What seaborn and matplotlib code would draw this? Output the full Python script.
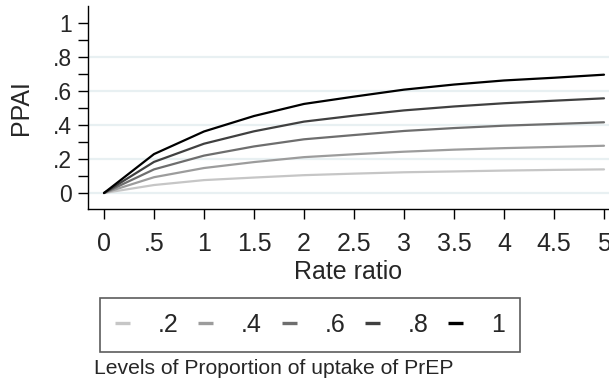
import matplotlib
matplotlib.use("Agg")
import matplotlib.pyplot as plt
import seaborn as sns
import pandas as pd
from matplotlib.lines import Line2D

rate_ratio = [0, 0.5, 1, 1.5, 2, 2.5, 3, 3.5, 4, 4.5, 5]
ppai_02 = [0, 0.047, 0.076, 0.091, 0.105, 0.114, 0.122, 0.127, 0.132, 0.136, 0.139]
ppai_04 = [0, 0.093, 0.147, 0.182, 0.211, 0.228, 0.243, 0.255, 0.264, 0.271, 0.278]
ppai_06 = [0, 0.139, 0.220, 0.274, 0.316, 0.341, 0.365, 0.382, 0.396, 0.406, 0.416]
ppai_08 = [0, 0.183, 0.290, 0.363, 0.420, 0.455, 0.486, 0.509, 0.528, 0.543, 0.557]
ppai_10 = [0, 0.229, 0.362, 0.453, 0.524, 0.567, 0.608, 0.638, 0.662, 0.678, 0.696]
levels = [".2", ".4", ".6", ".8", "1"]
colors = ["#c6c6c6", "#9c9c9c", "#6e6e6e", "#404040", "#000000"]

x_ticks = [0, 0.5, 1, 1.5, 2, 2.5, 3, 3.5, 4, 4.5, 5]
x_tick_labels = ["0", ".5", "1", "1.5", "2", "2.5", "3", "3.5", "4", "4.5", "5"]
y_ticks = [0, 0.1, 0.2, 0.3, 0.4, 0.5, 0.6, 0.7, 0.8, 0.9, 1.0]
y_tick_labels = ["0", "", ".2", "", ".4", "", ".6", "", ".8", "", "1"]
grid_levels = [0, 0.2, 0.4, 0.6, 0.8]

series = [ppai_02, ppai_04, ppai_06, ppai_08, ppai_10]
rows = []
for lev, vals in zip(levels, series):
    for x, y in zip(rate_ratio, vals):
        rows.append({"Rate ratio": x, "PPAI": y, "level": lev})
df = pd.DataFrame(rows)

sns.set_style("white")
plt.rcParams["font.family"] = ["Liberation Sans", "DejaVu Sans"]

W, H = 609, 379
fig = plt.figure(figsize=(W / 100, H / 100), dpi=100)
ax = fig.add_axes([88 / W, 1 - 209 / H, (609 - 88) / W, (209 - 6) / H])

for g in grid_levels:
    ax.axhline(g, color="#e8f0f2", lw=1.6, zorder=0)

sns.lineplot(data=df, x="Rate ratio", y="PPAI", hue="level", hue_order=levels,
             palette=dict(zip(levels, colors)), ax=ax, legend=False,
             linewidth=1.6, zorder=3)

ax.set_xlim(-0.16, 5.05)
ax.set_ylim(-0.094, 1.1)
ax.set_xticks(x_ticks)
ax.set_xticklabels(x_tick_labels, fontsize=18)
ax.set_yticks(y_ticks)
ax.set_yticklabels(y_tick_labels, fontsize=16.5)
ax.tick_params(axis="both", direction="out", length=7.5, width=1.0, color="black",
               bottom=True, left=True)
ax.tick_params(axis="y", pad=4)
ax.tick_params(axis="x", pad=9)
for s in ["top", "right"]:
    ax.spines[s].set_visible(False)
for s in ["left", "bottom"]:
    ax.spines[s].set_color("black")
    ax.spines[s].set_linewidth(1.0)
ax.set_xlabel("Rate ratio", fontsize=18, labelpad=3)
ax.set_ylabel("PPAI", fontsize=18, labelpad=14)
ax.grid(False)

handles = [Line2D([0], [0], color=c, lw=2.4, solid_capstyle="butt") for c in colors]
leg = fig.legend(handles, levels, loc="center", bbox_to_anchor=(310 / W, 1 - 325 / H),
                 ncol=5, fontsize=18, frameon=True, fancybox=False, shadow=False,
                 handlelength=0.6, handletextpad=1.1, columnspacing=0.8,
                 borderpad=0.6, borderaxespad=0)
leg.get_frame().set_edgecolor("#333333")
leg.get_frame().set_linewidth(1.2)

fig.text(94 / W, 1 - 368 / H, "Levels of Proportion of uptake of PrEP",
         fontsize=15.2, ha="left", va="center")

fig.savefig("out.png", dpi=100)
